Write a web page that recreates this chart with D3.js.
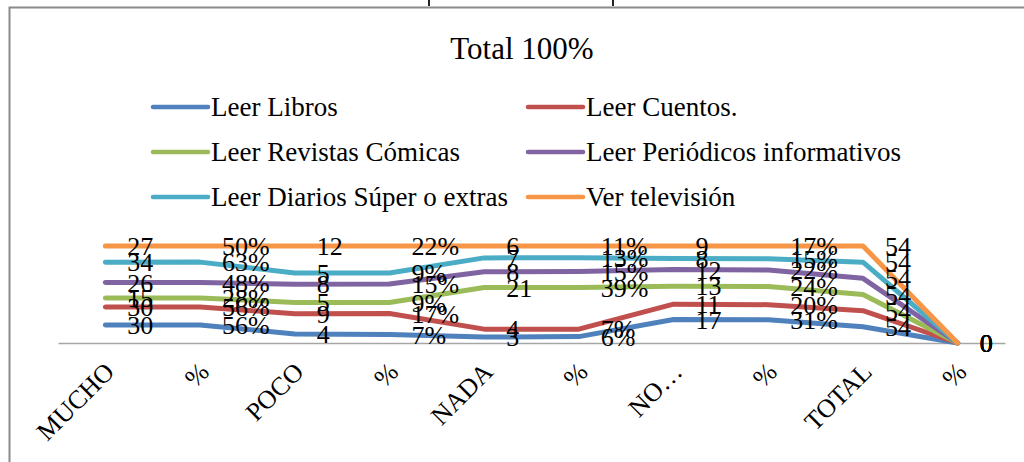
<!DOCTYPE html>
<html>
<head>
<meta charset="utf-8">
<script src="https://cdn.jsdelivr.net/npm/d3@7"></script>
<style>
   body { margin: 0; background: #fff; }
   #chart { width: 1024px; height: 462px; }
   svg text { font-family: "Liberation Serif", Tinos, "Times New Roman", Times, "DejaVu Serif", "Noto Serif", serif; fill: #000; }
</style>
</head>
<body>
<div id="chart"></div>
<script>
// Categories on the x axis (counts alternate with their share)
const categories = ["MUCHO", "%", "POCO", "%", "NADA", "%", "NO…", "%", "TOTAL", "%"];

// Series names, in legend order
const seriesNames = [
   "Leer Libros",
   "Leer Cuentos.",
   "Leer Revistas Cómicas",
   "Leer Periódicos informativos",
   "Leer Diarios Súper o extras",
   "Ver televisión"
];

// Series values, one list per series
const leerLibros = [30, 0.56, 4, 0.07, 3, 0.06, 17, 0.31, 54, 0];
const leerCuentos = [30, 0.56, 9, 0.17, 4, 0.07, 11, 0.20, 54, 0];
const leerRevistas = [15, 0.28, 5, 0.09, 21, 0.39, 13, 0.24, 54, 0];
const leerPeriodicos = [26, 0.48, 8, 0.15, 8, 0.15, 12, 0.22, 54, 0];
const leerDiarios = [34, 0.63, 5, 0.09, 7, 0.13, 8, 0.15, 54, 0];
const verTelevision = [27, 0.50, 12, 0.22, 6, 0.11, 9, 0.17, 54, 0];

const seriesValues = [leerLibros, leerCuentos, leerRevistas, leerPeriodicos, leerDiarios, verTelevision];
const seriesColors = ["#4f81bd", "#c0504d", "#9bbb59", "#8064a2", "#4bacc6", "#f79646"];

const chartConfig = {
   containerId: "#chart",
   title: "Total 100%",
   margin: { top: 246, right: 19, bottom: 119, left: 58 }
};

// Build the table the stack layout needs
const table = categories.map((c, i) => {
   const row = { index: i };
   seriesNames.forEach((name, s) => { row[name] = seriesValues[s][i]; });
   return row;
});

const container = d3.select(chartConfig.containerId);
const width = 1024;
const height = 462;
const margin = chartConfig.margin;
const innerWidth = width - margin.left - margin.right;

// Create svg element
const svg = container.append("svg")
   .attr("width", width)
   .attr("height", height);

// Chart frame and the bit of the element above it
svg.append("rect")
   .attr("x", 9.5)
   .attr("y", 7.5)
   .attr("width", 1100)
   .attr("height", 500)
   .attr("fill", "none")
   .attr("stroke", "#8a8a8a")
   .attr("stroke-width", 2);

[429, 613].forEach(x => {
   svg.append("line")
      .attr("x1", x).attr("x2", x)
      .attr("y1", 0).attr("y2", 6)
      .attr("stroke", "#222")
      .attr("stroke-width", 2);
});

// Title
svg.append("text")
   .attr("x", 522)
   .attr("y", 48)
   .attr("dy", "0.35em")
   .attr("text-anchor", "middle")
   .style("font-size", "31px")
   .text(chartConfig.title);

// Legend, two columns
const legend = svg.append("g").attr("class", "legend");
const legendItems = legend.selectAll(".legend-item")
   .data(seriesNames)
   .enter()
   .append("g")
   .attr("class", "legend-item")
   .attr("transform", (d, i) => "translate(" + (i % 2 === 0 ? 153 : 528) + "," + (107 + Math.floor(i / 2) * 45) + ")");

legendItems.append("line")
   .attr("x1", 0)
   .attr("x2", 55)
   .attr("stroke", (d, i) => seriesColors[i])
   .attr("stroke-width", 4.5)
   .attr("stroke-linecap", "round");

legendItems.append("text")
   .attr("x", 58)
   .attr("dy", "0.35em")
   .style("font-size", "27px")
   .text(d => d);

// Main group
const g = svg.append("g")
   .attr("class", "chart-group")
   .attr("transform", "translate(" + margin.left + "," + margin.top + ")");

// Scales
const xScale = d3.scaleBand().domain(d3.range(categories.length)).range([0, innerWidth]);
const xCenter = i => xScale(i) + xScale.bandwidth() / 2;
const yBottom = 343 - margin.top;
const yScale = d3.scaleLinear().domain([0, 1]).range([yBottom, 0]);

// 100% stacked values
const stack = d3.stack().keys(seriesNames).offset(d3.stackOffsetExpand);
const stacked = stack(table);

// Category axis
const xAxis = d3.axisBottom(xScale)
   .tickFormat(i => categories[i])
   .tickSize(0)
   .tickSizeOuter(0);

const axisG = g.append("g")
   .attr("class", "bottom-x-axis")
   .attr("transform", "translate(0," + yBottom + ")")
   .call(xAxis)
   .attr("font-family", null)
   .attr("font-size", null);

axisG.select(".domain")
   .attr("stroke", "#a6a6a6")
   .attr("stroke-width", 1.5);

axisG.selectAll(".tick text")
   .attr("x", 0)
   .attr("y", 0)
   .attr("dy", "0.35em")
   .attr("text-anchor", "end")
   .attr("transform", "translate(4,24) rotate(-45)")
   .style("font-size", "26px")
   .attr("fill", "#000");

// Lines
const line = d3.line()
   .x(d => xCenter(d.data.index))
   .y(d => yScale(d[1]));

g.selectAll(".series-line")
   .data(stacked)
   .enter()
   .append("path")
   .attr("class", "series-line")
   .attr("d", d => line(d))
   .attr("fill", "none")
   .attr("stroke", (d, i) => seriesColors[i])
   .attr("stroke-width", 5)
   .attr("stroke-linecap", "round")
   .attr("stroke-linejoin", "round");

// Data labels, to the right of each point
const formatValue = v => (v > 0 && v < 1) ? d3.format(".0%")(v) : d3.format("d")(v);

stacked.forEach((series, s) => {
   g.append("g")
      .attr("class", "labels")
      .selectAll("text")
      .data(series)
      .enter()
      .append("text")
      .attr("x", d => xCenter(d.data.index) + 22)
      .attr("y", d => yScale(d[1]))
      .attr("dy", "0.35em")
      .style("font-size", "26px")
      .text((d, i) => formatValue(seriesValues[s][i]));
});
</script>
</body>
</html>
